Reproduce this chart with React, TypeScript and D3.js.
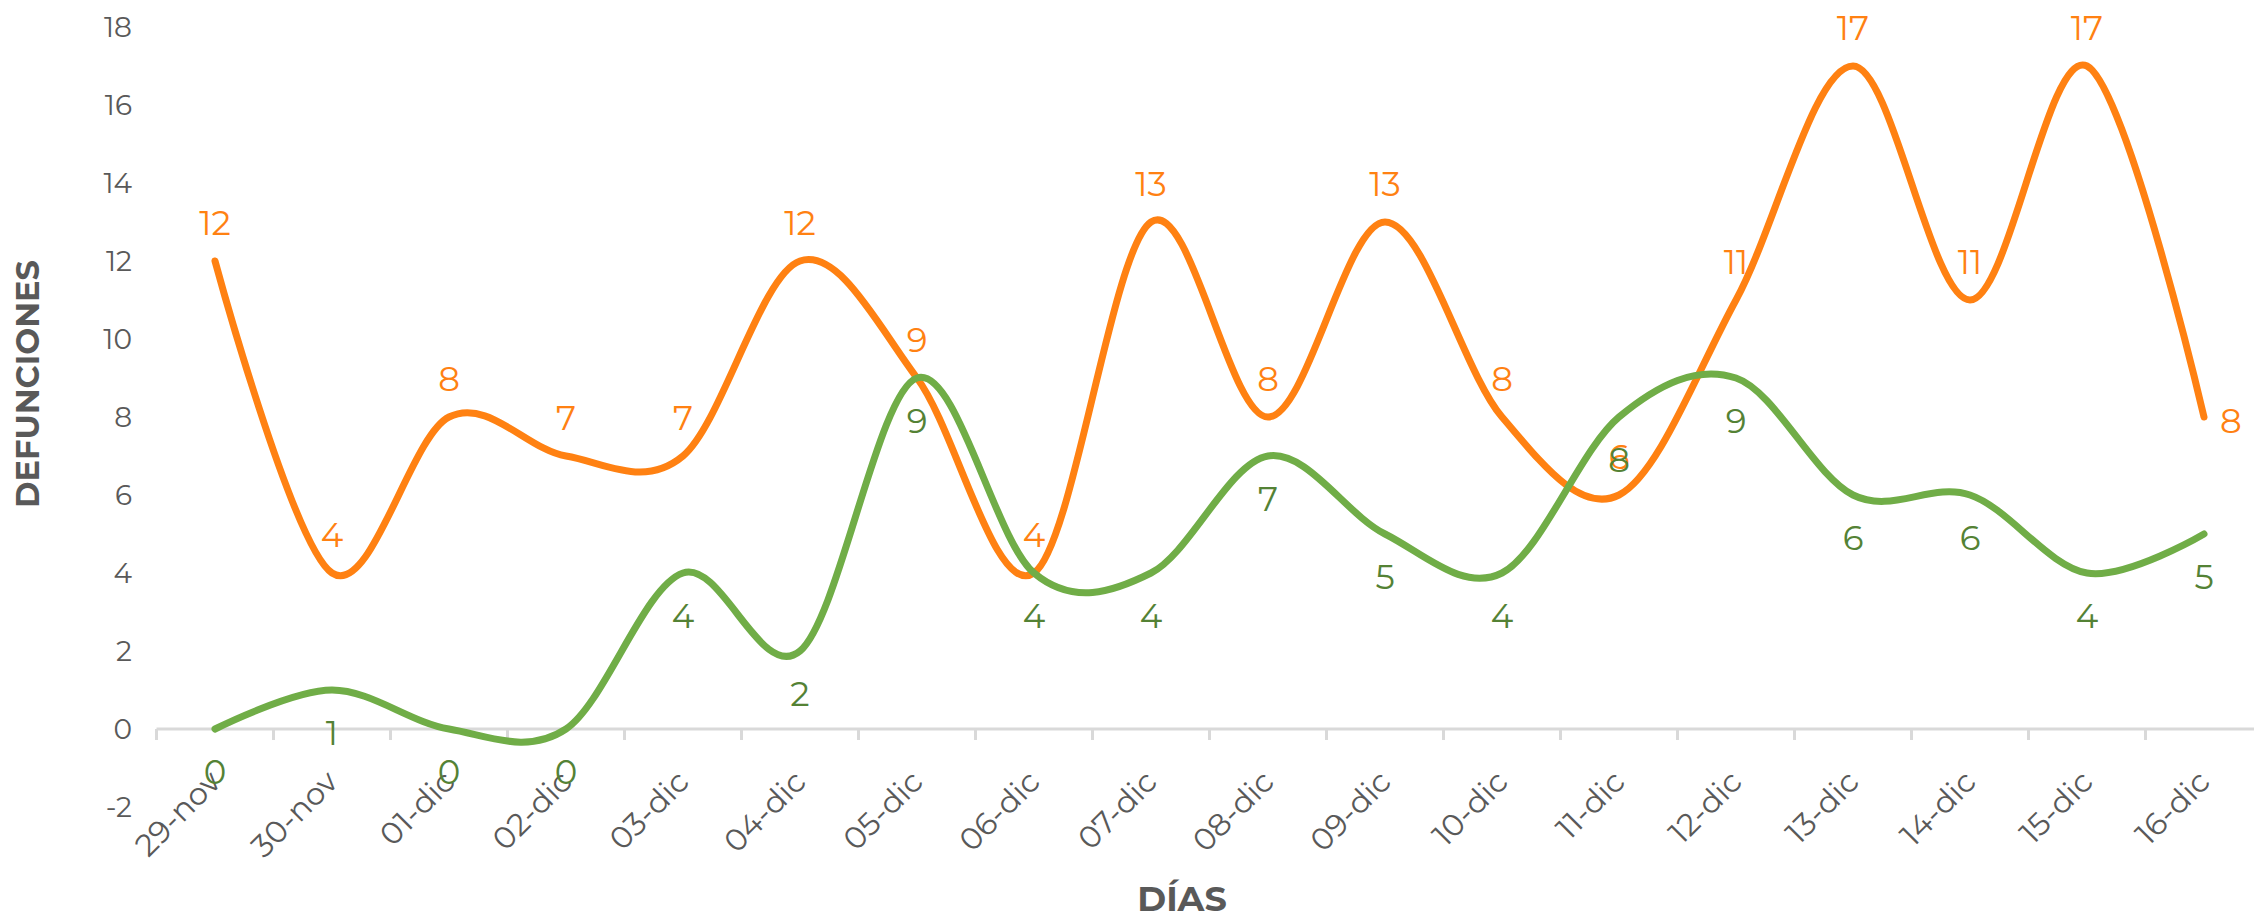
import React from 'react';
import * as d3 from 'd3';

const categories = ['29-nov', '30-nov', '01-dic', '02-dic', '03-dic', '04-dic', '05-dic', '06-dic', '07-dic', '08-dic', '09-dic', '10-dic', '11-dic', '12-dic', '13-dic', '14-dic', '15-dic', '16-dic'];
const orangeValues = [12, 4, 8, 7, 7, 12, 9, 4, 13, 8, 13, 8, 6, 11, 17, 11, 17, 8];
const greenValues = [0, 1, 0, 0, 4, 2, 9, 4, 4, 7, 5, 4, 8, 9, 6, 6, 4, 5];
const yTicks = [-2, 0, 2, 4, 6, 8, 10, 12, 14, 16, 18];
const yTitle = 'DEFUNCIONES';
const xTitle = 'DÍAS';

const W = 2254;
const H = 922;
const FONT = "Montserrat, 'Open Sans', sans-serif";
const GRAY = '#595959';
const ORANGE = '#FF8112';
const GREEN = '#70AD47';
const GREEN_LABEL = '#548235';

export default function App() {
  const step = 117;
  const x0 = 156.5;
  const x = d3.scaleBand<string>().domain(categories).range([x0, x0 + step * categories.length]).paddingInner(0).paddingOuter(0);
  const xc = (c: string) => (x(c) as number) + x.bandwidth() / 2;
  const y = d3.scaleLinear().domain([-2, 18]).range([807, 27]);

  const line = d3
    .line<number>()
    .x((_, i) => xc(categories[i]))
    .y((d) => y(d))
    .curve(d3.curveCardinal.tension(0));

  const boundaries = categories.map((c) => x(c) as number).concat([x0 + step * categories.length]);
  const last = categories.length - 1;

  return (
    <div style={{ position: 'absolute', left: 0, top: 0 }}>
      <svg width={W} height={H} style={{ display: 'block', background: '#fff' }} fontFamily={FONT}>
        {/* x axis line */}
        <line x1={x0} x2={x0 + step * categories.length} y1={y(0)} y2={y(0)} stroke="#D9D9D9" strokeWidth={3} />
        {boundaries.map((b, i) => (
          <line key={'t' + i} x1={b} x2={b} y1={y(0)} y2={y(0) + 11} stroke="#D9D9D9" strokeWidth={3} />
        ))}
        {/* y tick labels */}
        {yTicks.map((t) => (
          <text key={'y' + t} x={132} y={y(t)} dy="0.35em" textAnchor="end" fontSize={28} fill={GRAY}>
            {t}
          </text>
        ))}
        {/* category labels */}
        {categories.map((c) => (
          <text
            key={'c' + c}
            transform={`translate(${xc(c)},776) rotate(-45)`}
            textAnchor="end"
            dy="0.35em"
            fontSize={31}
            fill={GRAY}
          >
            {c}
          </text>
        ))}
        {/* lines */}
        <path d={line(orangeValues) || ''} fill="none" stroke={ORANGE} strokeWidth={7} strokeLinecap="round" strokeLinejoin="round" />
        <path d={line(greenValues) || ''} fill="none" stroke={GREEN} strokeWidth={7} strokeLinecap="round" strokeLinejoin="round" />
        {/* orange labels */}
        {orangeValues.map((v, i) => (
          <text
            key={'ol' + i}
            x={xc(categories[i]) + (i === last ? 16 : 0)}
            y={y(v) + (i === last ? 4 : -38)}
            dy="0.35em"
            textAnchor={i === last ? 'start' : 'middle'}
            fontSize={34}
            fill={ORANGE}
          >
            {v}
          </text>
        ))}
        {/* green labels */}
        {greenValues.map((v, i) => (
          <text
            key={'gl' + i}
            x={xc(categories[i])}
            y={y(v) + 43}
            dy="0.35em"
            textAnchor="middle"
            fontSize={34}
            fill={GREEN_LABEL}
          >
            {v}
          </text>
        ))}
        {/* axis titles */}
        <text
          transform={`translate(28,384) rotate(-90)`}
          textAnchor="middle"
          dy="0.35em"
          fontSize={32}
          fontWeight="bold"
          fill={GRAY}
        >
          {yTitle}
        </text>
        <text x={1182} y={911} textAnchor="middle" fontSize={35} fontWeight="bold" fill={GRAY}>
          {xTitle}
        </text>
      </svg>
    </div>
  );
}
